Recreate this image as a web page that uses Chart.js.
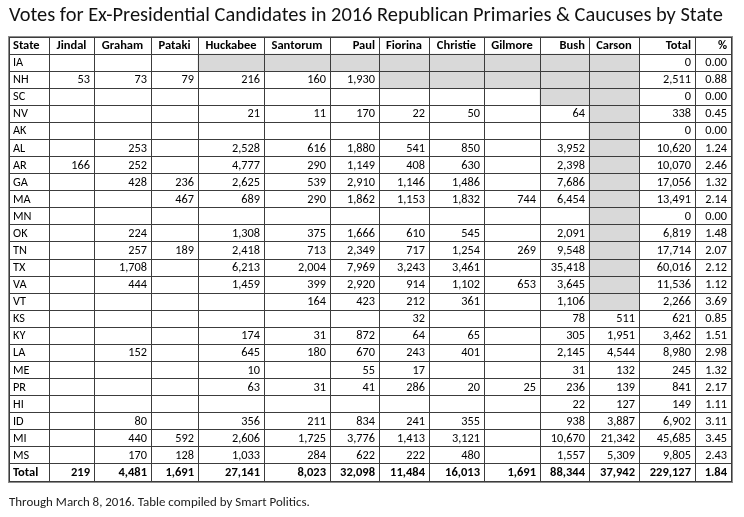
<!DOCTYPE html>
<html>
<head>
<meta charset="utf-8">
<title>Votes for Ex-Presidential Candidates in 2016 Republican Primaries &amp; Caucuses by State</title>
<script src="https://cdn.jsdelivr.net/npm/chart.js@4.4.1/dist/chart.umd.min.js"></script>
<style>
  html, body { margin: 0; padding: 0; background: #fff; }
  #votesTable { display: block; }
</style>
</head>
<body>
<canvas id="votesTable" width="744" height="517"></canvas>
<script>
// Table data
const _ = null;
const states = ['IA', 'NH', 'SC', 'NV', 'AK', 'AL', 'AR', 'GA', 'MA', 'MN', 'OK', 'TN',
                'TX', 'VA', 'VT', 'KS', 'KY', 'LA', 'ME', 'PR', 'HI', 'ID', 'MI', 'MS'];
const candidates = ['Jindal', 'Graham', 'Pataki', 'Huckabee', 'Santorum', 'Paul',
                    'Fiorina', 'Christie', 'Gilmore', 'Bush', 'Carson'];

const jindal   = [_, 53, _, _, _, _, 166, _, _, _, _, _, _, _, _, _, _, _, _, _, _, _, _, _];
const graham   = [_, 73, _, _, _, 253, 252, 428, _, _, 224, 257, 1708, 444, _, _, _, 152, _, _, _, 80, 440, 170];
const pataki   = [_, 79, _, _, _, _, _, 236, 467, _, _, 189, _, _, _, _, _, _, _, _, _, _, 592, 128];
const huckabee = [_, 216, _, 21, _, 2528, 4777, 2625, 689, _, 1308, 2418, 6213, 1459, _, _, 174, 645, 10, 63, _, 356, 2606, 1033];
const santorum = [_, 160, _, 11, _, 616, 290, 539, 290, _, 375, 713, 2004, 399, 164, _, 31, 180, _, 31, _, 211, 1725, 284];
const paul     = [_, 1930, _, 170, _, 1880, 1149, 2910, 1862, _, 1666, 2349, 7969, 2920, 423, _, 872, 670, 55, 41, _, 834, 3776, 622];
const fiorina  = [_, _, _, 22, _, 541, 408, 1146, 1153, _, 610, 717, 3243, 914, 212, 32, 64, 243, 17, 286, _, 241, 1413, 222];
const christie = [_, _, _, 50, _, 850, 630, 1486, 1832, _, 545, 1254, 3461, 1102, 361, _, 65, 401, _, 20, _, 355, 3121, 480];
const gilmore  = [_, _, _, _, _, _, _, _, 744, _, _, 269, _, 653, _, _, _, _, _, 25, _, _, _, _];
const bush     = [_, _, _, 64, _, 3952, 2398, 7686, 6454, _, 2091, 9548, 35418, 3645, 1106, 78, 305, 2145, 31, 236, 22, 938, 10670, 1557];
const carson   = [_, _, _, _, _, _, _, _, _, _, _, _, _, _, _, 511, 1951, 4544, 132, 139, 127, 3887, 21342, 5309];

const stateTotals = [0, 2511, 0, 338, 0, 10620, 10070, 17056, 13491, 0, 6819, 17714,
                     60016, 11536, 2266, 621, 3462, 8980, 245, 841, 149, 6902, 45685, 9805];
const statePct = [0.00, 0.88, 0.00, 0.45, 0.00, 1.24, 2.46, 1.32, 2.14, 0.00, 1.48, 2.07,
                  2.12, 1.12, 3.69, 0.85, 1.51, 2.98, 1.32, 2.17, 1.11, 3.11, 3.45, 2.43];
const candidateTotals = [219, 4481, 1691, 27141, 8023, 32098, 11484, 16013, 1691, 88344, 37942];
const grandTotal = 229127;
const grandPct = 1.84;

// Grey cells: candidate was still in the race through this contest
const shadedNames = ['Huckabee', 'Santorum', 'Paul', 'Fiorina', 'Christie', 'Gilmore', 'Bush', 'Carson'];
const shadedThrough = ['IA', 'IA', 'IA', 'NH', 'NH', 'NH', 'SC', 'VT'];

const titleText = 'Votes for Ex-Presidential Candidates in 2016 Republican Primaries & Caucuses by State';
const footerText = 'Through March 8, 2016. Table compiled by Smart Politics.';

// Layout
const FONT = 'Carlito, Lato, sans-serif';
const series = [jindal, graham, pataki, huckabee, santorum, paul, fiorina, christie, gilmore, bush, carson];
const columns = ['State', ...candidates, 'Total', '%'];
const colWidths = [40, 45, 57, 47, 66, 66, 49, 50, 55, 56, 49, 50, 56, 36];
const colEdges = colWidths.reduce((acc, w) => { acc.push(acc[acc.length - 1] + w); return acc; }, [0]);
const headerAlign = ['left', 'center', 'center', 'center', 'center', 'center', 'right',
                     'center', 'center', 'center', 'right', 'center', 'right', 'right'];
const rowKeys = ['header', ...states, 'Total'];
const TABLE_TOP = 37;
const TABLE_BOTTOM = 481;
const LINE = '#3c3c3c';

const fmt = v => v.toLocaleString('en-US');

// fit a font size so text spans roughly the given width
function fitSize(text, width, weight) {
    const ctx = document.createElement('canvas').getContext('2d');
    ctx.font = `${weight} 100px ${FONT}`;
    return 100 * width / ctx.measureText(text).width;
}
const titleSize = fitSize(titleText, 714, 'normal');
const footerSize = fitSize(footerText, 301, 'normal');

function cellText(row, col) {
    const last = rowKeys.length - 1;
    const nC = candidates.length;
    if (row === 0) return columns[col];
    if (row === last) {
        if (col === 0) return 'Total';
        if (col <= nC) return fmt(candidateTotals[col - 1]);
        if (col === nC + 1) return fmt(grandTotal);
        return grandPct.toFixed(2);
    }
    const i = row - 1;
    if (col === 0) return states[i];
    if (col <= nC) {
        const v = series[col - 1][i];
        return v == null ? '' : fmt(v);
    }
    if (col === nC + 1) return fmt(stateTotals[i]);
    return statePct[i].toFixed(2);
}

// Grey bars, one dataset per still-running candidate column
const datasets = shadedNames.map((name, k) => {
    const col = columns.indexOf(name);
    const lastIdx = states.indexOf(shadedThrough[k]);
    return {
        label: name,
        data: rowKeys.map((key, r) => (r >= 1 && r - 1 <= lastIdx) ? [colEdges[col], colEdges[col + 1]] : null),
        backgroundColor: '#d9d9d9',
        borderWidth: 0,
        grouped: false,
        barPercentage: 1,
        categoryPercentage: 1
    };
});

// Cell text + outer border
const cellPlugin = {
    id: 'cellText',
    afterDatasetsDraw(chart) {
        const { ctx, scales: { x, y } } = chart;
        const last = rowKeys.length - 1;
        ctx.save();
        ctx.fillStyle = '#000';
        ctx.textBaseline = 'middle';
        rowKeys.forEach((key, r) => {
            const bold = r === 0 || r === last;
            ctx.font = bold ? `bold 12.5px ${FONT}` : `normal 12.3px ${FONT}`;
            const cy = y.getPixelForValue(r) + 0.5;
            columns.forEach((c, col) => {
                const text = cellText(r, col);
                if (!text) return;
                const left = x.getPixelForValue(colEdges[col]);
                const right = x.getPixelForValue(colEdges[col + 1]);
                let align = col === 0 ? 'left' : 'right';
                if (r === 0) align = headerAlign[col];
                ctx.textAlign = align;
                const tx = align === 'left' ? left + 4 : align === 'right' ? right - 4 : (left + right) / 2;
                ctx.fillText(text, tx, cy);
            });
        });
        ctx.restore();
    },
    afterDraw(chart) {
        const { ctx, chartArea: a } = chart;
        ctx.save();
        ctx.strokeStyle = '#8c8c8c';
        ctx.lineWidth = 1;
        ctx.strokeRect(a.left - 0.5, a.top - 0.5, a.right - a.left + 2, a.bottom - a.top + 2);
        ctx.strokeStyle = LINE;
        ctx.strokeRect(a.left + 0.5, a.top + 0.5, a.right - a.left, a.bottom - a.top);
        ctx.restore();
    }
};

const titleLine = titleSize * 1.2;
const footerLine = footerSize * 1.2;

const votesChart = new Chart(document.getElementById('votesTable'), {
    type: 'bar',
    data: { labels: rowKeys, datasets },
    options: {
        indexAxis: 'y',
        responsive: false,
        animation: false,
        devicePixelRatio: 1,
        events: [],
        layout: { padding: { left: 9, right: 13, top: 0, bottom: 0 } },
        scales: {
            x: {
                type: 'linear',
                min: 0,
                max: colEdges[colEdges.length - 1],
                afterBuildTicks: scale => { scale.ticks = colEdges.map(v => ({ value: v })); },
                ticks: { display: false },
                grid: { color: LINE, lineWidth: 1, drawTicks: false, z: 1 },
                border: { display: false }
            },
            y: {
                type: 'category',
                ticks: { display: false },
                grid: { offset: true, color: LINE, lineWidth: 1, drawTicks: false, z: 1 },
                border: { display: false }
            }
        },
        plugins: {
            legend: { display: false },
            tooltip: { enabled: false },
            title: {
                display: true,
                text: titleText,
                align: 'start',
                color: '#111',
                font: { family: FONT, size: titleSize, weight: 'normal', lineHeight: 1.2 },
                padding: { top: 4, bottom: TABLE_TOP - 4 - titleLine }
            },
            subtitle: {
                display: true,
                position: 'bottom',
                text: footerText,
                align: 'start',
                color: '#222',
                font: { family: FONT, size: footerSize, weight: 'normal', lineHeight: 1.2 },
                padding: { top: 503 - footerLine / 2 - TABLE_BOTTOM, bottom: 517 - 503 - footerLine / 2 }
            }
        }
    },
    plugins: [cellPlugin]
});
</script>
</body>
</html>
